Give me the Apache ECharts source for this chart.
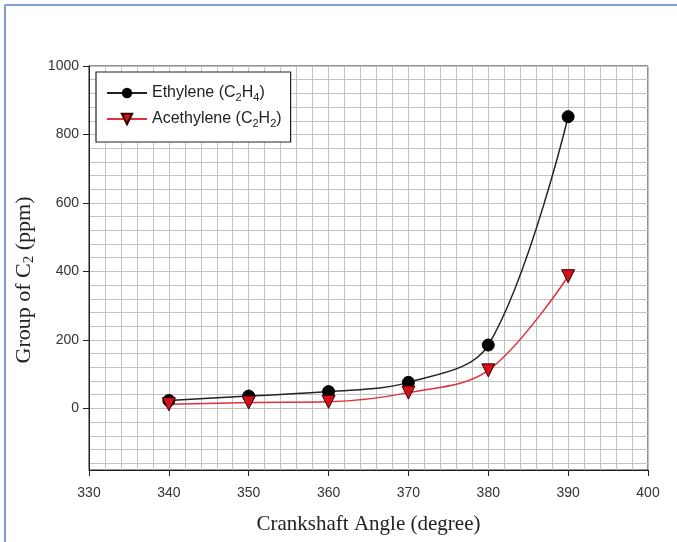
<!DOCTYPE html>
<html>
<head>
<meta charset="utf-8">
<script src="https://cdn.jsdelivr.net/npm/echarts@6/dist/echarts.min.js"></script>
<style>
  html, body { margin: 0; padding: 0; background: #fff; }
  #chart { width: 677px; height: 542px; }
</style>
</head>
<body>
<div id="chart"></div>
<script>
// crankshaft angle (degree)
const angles = [340, 350, 360, 370, 380, 390]
// group of C2 (ppm)
const ethylene = [23, 36, 49, 76, 185, 852]
const acethylene = [12, 17, 19, 46, 111, 386]
const seriesNames = ['Ethylene', 'Acethylene']
const legendFormulas = { Ethylene: 'C{sub|2}H{sub|4}', Acethylene: 'C{sub|2}H{sub|2}' }

const chart = echarts.init(document.getElementById('chart'), null, { renderer: 'canvas' })

// plot box geometry: value -180..1000 spans 66 -> 470 px
const plotTop = 66, plotBottom = 470, H = 542
const k = (plotBottom - plotTop) / 1180
const gridBottom = (lo) => H - (plotTop + (1000 - lo) * k)

const sub = { fontSize: 11, padding: [9, 0, 0, 0], fontFamily: 'Liberation Sans, Arial', color: '#222' }
const tickFont = { fontFamily: 'Liberation Sans, Arial', fontSize: 14, color: '#333' }
const gridColor = '#c2c2c2'

chart.setOption({
  backgroundColor: '#fff',
  animation: false,
  graphic: [
    { type: 'line', shape: { x1: 5, y1: 5, x2: 677, y2: 5 }, style: { stroke: '#7f9fd0', lineWidth: 2 } },
    { type: 'line', shape: { x1: 5, y1: 5, x2: 5, y2: 542 }, style: { stroke: '#7f9fd0', lineWidth: 2 } },
  ],
  grid: [
    // main plot box (data)
    { left: 89, right: 29, top: plotTop, bottom: H - plotBottom, show: true, borderColor: '#222', borderWidth: 1 },
    // horizontal grid lines every 40 from 0
    { left: 89, right: 29, top: plotTop, bottom: gridBottom(-160) },
    // y labels 0..1000
    { left: 89, right: 29, top: plotTop, bottom: gridBottom(0) },
    // vertical grid lines every 2
    { left: 89, right: 29, top: plotTop, bottom: H - plotBottom },
  ],
  xAxis: [
    {
      gridIndex: 0, type: 'value', min: 330, max: 400, interval: 10,
      name: 'Crankshaft Angle (degree)', nameLocation: 'middle', nameGap: 44,
      nameTextStyle: { fontFamily: 'Liberation Serif, Times New Roman', fontSize: 21, color: '#222' },
      axisLine: { onZero: false, lineStyle: { color: '#222' } },
      axisTick: { show: true, length: 6, lineStyle: { color: '#222' } },
      axisLabel: Object.assign({ margin: 16 }, tickFont),
      splitLine: { show: false },
    },
    { gridIndex: 1, type: 'value', min: 330, max: 400, show: false },
    { gridIndex: 2, type: 'value', min: 330, max: 400, show: false },
    {
      gridIndex: 3, type: 'value', min: 330, max: 400, interval: 2,
      axisLine: { show: false }, axisTick: { show: false }, axisLabel: { show: false },
      splitLine: { show: true, lineStyle: { color: gridColor, width: 1 } },
    },
  ],
  yAxis: [
    {
      gridIndex: 0, type: 'value', min: -180, max: 1000,
      name: 'Group of C{sub|2} (ppm)', nameLocation: 'middle', nameGap: 52, nameRotate: 90,
      nameTextStyle: {
        fontFamily: 'Liberation Serif, Times New Roman', fontSize: 22, color: '#222',
        padding: [0, 24, 0, 0],
        rich: { sub: { fontFamily: 'Liberation Serif, Times New Roman', fontSize: 15, color: '#222', padding: [11, 0, 0, 0] } },
      },
      axisLine: { show: true, onZero: false, lineStyle: { color: '#222' } },
      axisTick: { show: false }, axisLabel: { show: false }, splitLine: { show: false },
    },
    {
      gridIndex: 1, type: 'value', min: -160, max: 1000, interval: 40,
      axisLine: { show: false }, axisTick: { show: false }, axisLabel: { show: false },
      splitLine: { show: true, lineStyle: { color: gridColor, width: 1 } },
    },
    {
      gridIndex: 2, type: 'value', min: 0, max: 1000, interval: 200,
      axisLine: { show: false },
      axisTick: { show: true, length: 6, lineStyle: { color: '#222' } },
      axisLabel: Object.assign({ margin: 10, formatter: (v) => String(v) }, tickFont),
      splitLine: { show: false },
    },
    { gridIndex: 3, type: 'value', min: -180, max: 1000, show: false },
  ],
  legend: {
    left: 96, top: 72, orient: 'vertical',
    data: seriesNames,
    backgroundColor: '#fff', borderColor: '#222', borderWidth: 1.2,
    padding: [13, 9, 13, 10], itemGap: 8, itemWidth: 40, itemHeight: 13,
    formatter: (name) => name + ' (' + legendFormulas[name] + ')',
    textStyle: { fontFamily: 'Liberation Sans, Arial', fontSize: 16, color: '#222', rich: { sub } },
  },
  series: [
    {
      name: seriesNames[0], type: 'line', xAxisIndex: 0, yAxisIndex: 0,
      data: angles.map((a, i) => [a, ethylene[i]]),
      smooth: 0.35,
      symbol: 'circle', symbolSize: 12,
      lineStyle: { color: '#222', width: 1.5 },
      itemStyle: { color: '#000', borderColor: '#000' },
    },
    {
      name: seriesNames[1], type: 'line', xAxisIndex: 0, yAxisIndex: 0,
      data: angles.map((a, i) => [a, acethylene[i]]),
      smooth: 0.35,
      symbol: 'triangle', symbolRotate: 180, symbolSize: 13,
      lineStyle: { color: '#e0303a', width: 1.5 },
      itemStyle: { color: '#d4101a', borderColor: '#300', borderWidth: 1 },
    },
  ],
})
</script>
</body>
</html>
